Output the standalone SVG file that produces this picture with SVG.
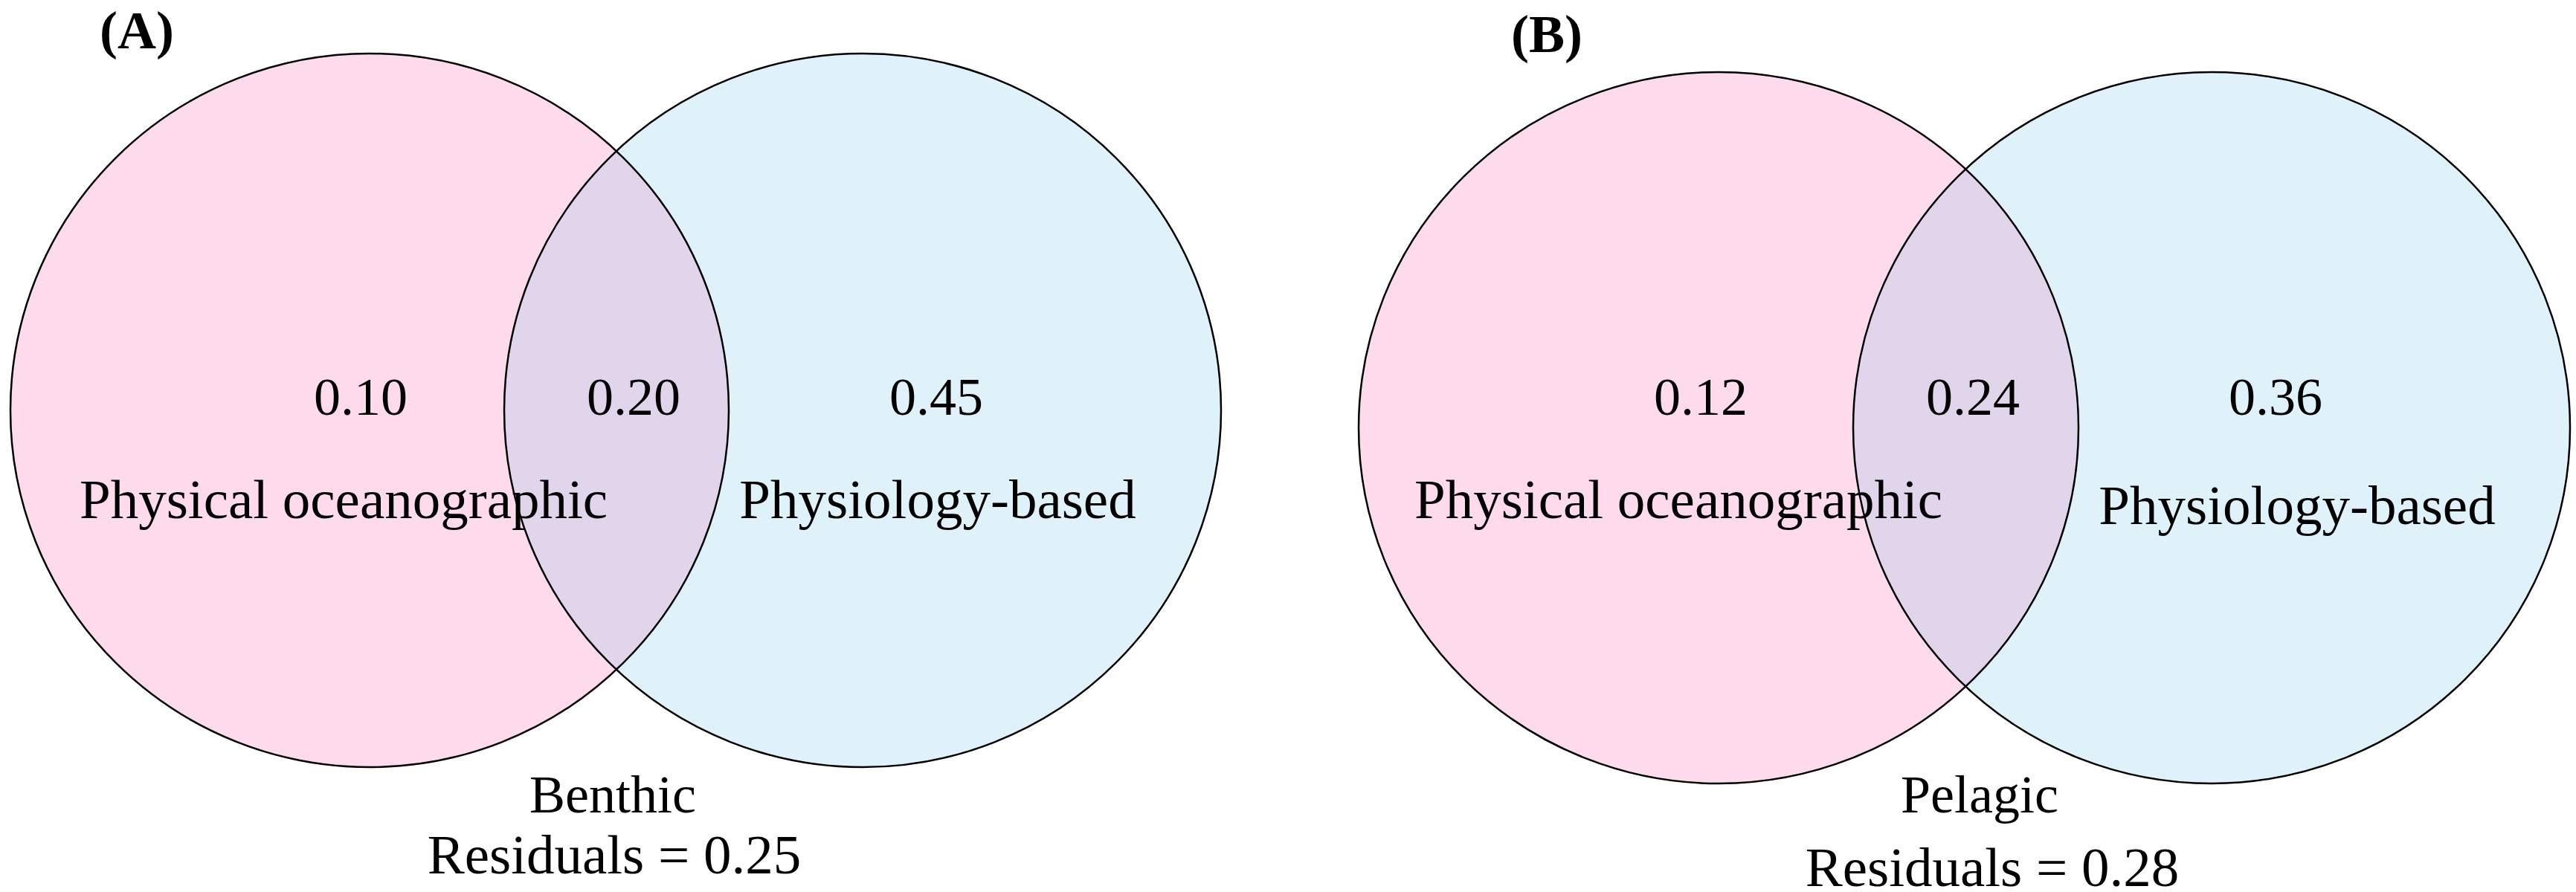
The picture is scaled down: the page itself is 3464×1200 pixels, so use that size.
<svg xmlns="http://www.w3.org/2000/svg" width="3464" height="1200" viewBox="0 0 3464 1200">
<style>
.t{font-family:"Liberation Serif","Times New Roman",serif;fill:#000;text-anchor:middle}
.n{font-size:72px}
.l{font-size:75px}
.p{font-size:72px;font-weight:bold;text-anchor:start}
.pink{fill:#FDDAEC}
.blue{fill:#DFF2F9}
.ov{fill:#E1D5EB}
.edge{fill:none;stroke:#000;stroke-width:2.5}
</style>
<defs>
<clipPath id="clipA"><ellipse cx="497" cy="552" rx="483" ry="480"/></clipPath>
<clipPath id="clipB"><ellipse cx="2311" cy="575.5" rx="484" ry="478.5"/></clipPath>
</defs>
<g id="panelA">
<text class="t p" x="134" y="65">(A)</text>
<g id="A-physical">
<ellipse class="pink" cx="497" cy="552" rx="483" ry="480"/>
</g>
<g id="A-physiology">
<ellipse class="blue" cx="1160" cy="552" rx="482" ry="480"/>
</g>
<g id="A-overlap">
<ellipse class="ov" cx="1160" cy="552" rx="482" ry="480" clip-path="url(#clipA)"/>
</g>
<ellipse class="edge" cx="497" cy="552" rx="483" ry="480"/>
<ellipse class="edge" cx="1160" cy="552" rx="482" ry="480"/>
<text class="t n" x="485" y="558">0.10</text>
<text class="t n" x="852" y="558">0.20</text>
<text class="t n" x="1259" y="558">0.45</text>
<text class="t l" x="462" y="697">Physical oceanographic</text>
<text class="t l" x="1261" y="697">Physiology-based</text>
<text class="t n" x="824" y="1093">Benthic</text>
<text class="t l" x="826" y="1175">Residuals = 0.25</text>
</g>
<g id="panelB">
<text class="t p" x="2032" y="70">(B)</text>
<g id="B-physical">
<ellipse class="pink" cx="2311" cy="575.5" rx="484" ry="478.5"/>
</g>
<g id="B-physiology">
<ellipse class="blue" cx="2974" cy="575.5" rx="482" ry="478.5"/>
</g>
<g id="B-overlap">
<ellipse class="ov" cx="2974" cy="575.5" rx="482" ry="478.5" clip-path="url(#clipB)"/>
</g>
<ellipse class="edge" cx="2311" cy="575.5" rx="484" ry="478.5"/>
<ellipse class="edge" cx="2974" cy="575.5" rx="482" ry="478.5"/>
<text class="t n" x="2287" y="558">0.12</text>
<text class="t n" x="2653" y="558">0.24</text>
<text class="t n" x="3060" y="558">0.36</text>
<text class="t l" x="2257" y="697">Physical oceanographic</text>
<text class="t l" x="3089" y="705">Physiology-based</text>
<text class="t n" x="2662" y="1093">Pelagic</text>
<text class="t l" x="2679" y="1192">Residuals = 0.28</text>
</g>
<g id="connectors"></g>
</svg>
